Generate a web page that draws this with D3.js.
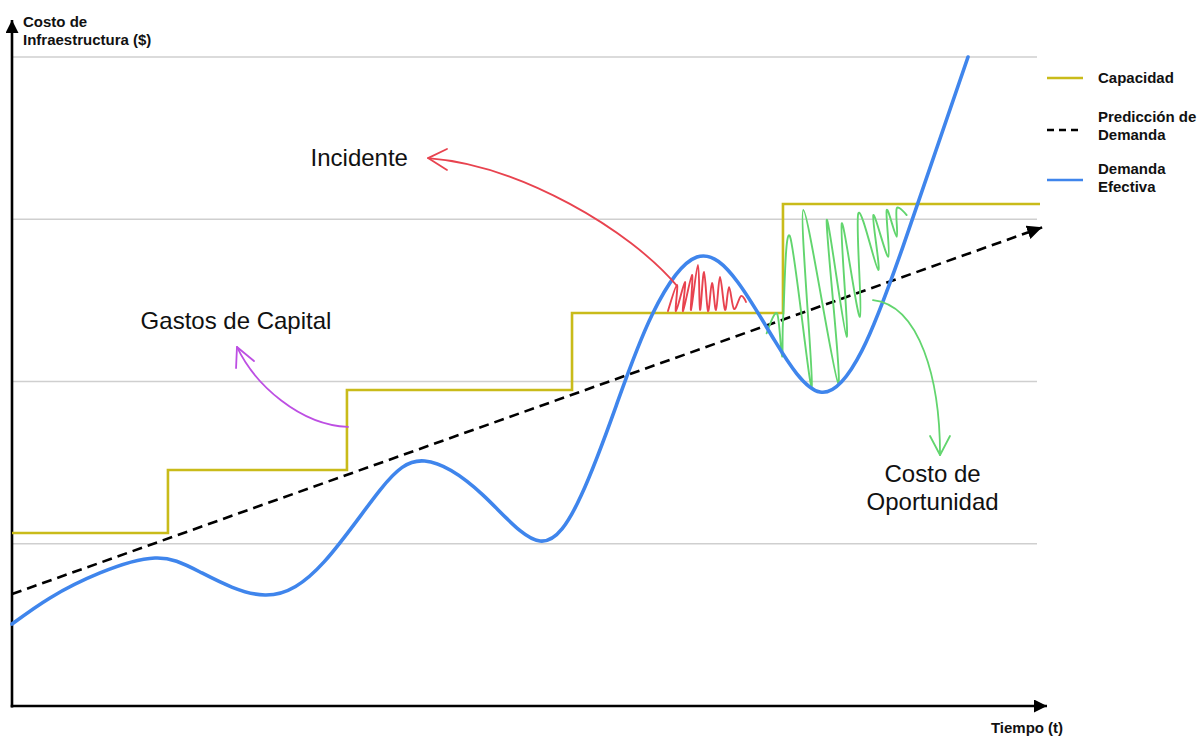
<!DOCTYPE html>
<html>
<head>
<meta charset="utf-8">
<script src="https://cdn.jsdelivr.net/npm/d3@7"></script>
<style>
  html, body { margin: 0; padding: 0; background: #fff; }
  svg { display: block; font-family: "Liberation Sans", Arial, Helvetica, sans-serif; }
</style>
</head>
<body>
<svg id="chart" width="1204" height="736"></svg>
<script>
// ---- data (time t, cost v) ----
const gridValues = [1, 2, 3, 4];

// capacity steps: start time of each step and its level
const capacityT = [0, 1.523, 3.271, 5.469, 7.529, 10.039];
const capacityV = [1.066, 1.455, 1.948, 2.422, 3.094, 3.094];

// demand forecast (straight trend)
const forecastT = [0, 10.06];
const forecastV = [0.69, 2.95];

// effective demand
const demandT = [0, 0.371, 0.859, 1.396, 1.836, 2.471, 3.050, 3.594, 4.030, 4.600, 5.156, 5.560, 5.900, 6.250, 6.689, 7.090, 7.450, 7.891, 8.300, 8.700, 9.336];
const demandV = [0.505, 0.666, 0.820, 0.912, 0.826, 0.684, 0.890, 1.331, 1.510, 1.300, 1.017, 1.300, 1.850, 2.410, 2.767, 2.610, 2.250, 1.935, 2.190, 2.830, 4.000];

// scribbled shading: incident (demand above capacity)
const incidentT = [6.406, 6.494, 6.484, 6.572, 6.553, 6.641, 6.631, 6.699, 6.719, 6.758, 6.797, 6.836, 6.875, 6.914, 6.963, 7.002, 7.051, 7.119, 7.168];
const incidentV = [2.434, 2.595, 2.434, 2.613, 2.434, 2.656, 2.441, 2.718, 2.441, 2.675, 2.434, 2.607, 2.441, 2.644, 2.441, 2.582, 2.447, 2.527, 2.490];

// scribbled shading: opportunity cost (capacity above demand)
const opportunityT = [7.370, 7.471, 7.520, 7.532, 7.598, 7.810, 7.728, 8.069, 7.956, 8.151, 8.103, 8.281, 8.265, 8.460, 8.411, 8.558, 8.542, 8.640, 8.640, 8.737];
const opportunityV = [2.297, 2.420, 2.153, 2.410, 2.893, 1.968, 3.057, 1.989, 2.995, 2.276, 2.975, 2.399, 3.037, 2.687, 3.026, 2.769, 3.057, 2.892, 3.067, 3.026];

// callout arrows: cubic curve (start, control 1, control 2, tip), then arrowhead wings
const capexArrowT = [3.281, 2.813, 2.373, 2.197];
const capexArrowV = [1.720, 1.732, 1.978, 2.213];
const capexWingT = [2.188, 2.197, 2.363];
const capexWingV = [2.083, 2.213, 2.126];

const incidentArrowT = [6.494, 6.035, 4.961, 4.063];
const incidentArrowV = [2.589, 2.934, 3.334, 3.377];
const incidentWingT = [4.248, 4.063, 4.248];
const incidentWingV = [3.433, 3.377, 3.304];

const oppArrowT = [8.408, 8.867, 9.063, 9.063];
const oppArrowV = [2.502, 2.471, 2.009, 1.547];
const oppWingT = [8.965, 9.063, 9.160];
const oppWingV = [1.664, 1.547, 1.664];

// text
const yTitle = ["Costo de", "Infraestructura ($)"];
const xTitle = "Tiempo (t)";
const legendLabels = [["Capacidad"], ["Predicción de", "Demanda"], ["Demanda", "Efectiva"]];

// ---- drawing ----
const colors = {
  capacity: "#c9bb1a",
  forecast: "#000000",
  demand: "#3f85ec",
  incident: "#e8434f",
  opportunity: "#62d56e",
  capex: "#bd4fe3",
  grid: "#cfcfcf"
};

const svg = d3.select("#chart");
const x = d3.scaleLinear().domain([0, 10]).range([12, 1036]);
const y = d3.scaleLinear().domain([0, 4]).range([706, 57]);

const zip = (ts, vs) => ts.map((t, i) => [t, vs[i]]);
const lineOf = curve => d3.line().x(d => x(d[0])).y(d => y(d[1])).curve(curve);

// arrowhead markers
const defs = svg.append("defs");
function triMarker(id, color, w, h) {
  defs.append("marker")
    .attr("id", id)
    .attr("viewBox", `0 0 ${w} ${h}`)
    .attr("refX", w).attr("refY", h / 2)
    .attr("markerUnits", "userSpaceOnUse")
    .attr("markerWidth", w).attr("markerHeight", h)
    .attr("orient", "auto")
    .append("path")
    .attr("d", `M0,0 L${w},${h / 2} L0,${h} Z`)
    .attr("fill", color);
}
triMarker("axisHead", "#000", 13, 13);
triMarker("trendHead", "#000", 15, 14);

// gridlines
svg.append("g").selectAll("line").data(gridValues).join("line")
  .attr("x1", x(0)).attr("x2", x(10) + 1)
  .attr("y1", d => y(d)).attr("y2", d => y(d))
  .attr("stroke", colors.grid).attr("stroke-width", 1.6);

// axes
svg.append("line")
  .attr("x1", x(0)).attr("y1", y(0) + 1.5)
  .attr("x2", x(0)).attr("y2", y(0) - 686)
  .attr("stroke", "#000").attr("stroke-width", 2.6)
  .attr("marker-end", "url(#axisHead)");
svg.append("line")
  .attr("x1", x(0) - 1.3).attr("y1", y(0))
  .attr("x2", x(0) + 1035).attr("y2", y(0))
  .attr("stroke", "#000").attr("stroke-width", 2.6)
  .attr("marker-end", "url(#axisHead)");

// capacity
svg.append("path")
  .datum(zip(capacityT, capacityV))
  .attr("d", lineOf(d3.curveStepAfter))
  .attr("fill", "none").attr("stroke", colors.capacity).attr("stroke-width", 2.6);

// forecast trend
svg.append("path")
  .datum(zip(forecastT, forecastV))
  .attr("d", lineOf(d3.curveLinear))
  .attr("fill", "none").attr("stroke", colors.forecast).attr("stroke-width", 2.6)
  .attr("stroke-dasharray", "10,6")
  .attr("marker-end", "url(#trendHead)");

// scribbles
function scribble(ts, vs, color) {
  svg.append("path")
    .datum(zip(ts, vs))
    .attr("d", lineOf(d3.curveCatmullRom.alpha(0)))
    .attr("fill", "none").attr("stroke", color).attr("stroke-width", 1.9)
    .attr("stroke-linejoin", "round").attr("stroke-linecap", "round");
}
scribble(incidentT, incidentV, colors.incident);
scribble(opportunityT, opportunityV, colors.opportunity);

// effective demand
svg.append("path")
  .datum(zip(demandT, demandV))
  .attr("d", lineOf(d3.curveNatural))
  .attr("fill", "none").attr("stroke", colors.demand).attr("stroke-width", 3.6)
  .attr("stroke-linecap", "round");

// callout arrows
function callout(ts, vs, wt, wv, color) {
  const p = d3.path();
  p.moveTo(x(ts[0]), y(vs[0]));
  p.bezierCurveTo(x(ts[1]), y(vs[1]), x(ts[2]), y(vs[2]), x(ts[3]), y(vs[3]));
  svg.append("path")
    .attr("d", p.toString())
    .attr("fill", "none").attr("stroke", color).attr("stroke-width", 1.8)
    .attr("stroke-linecap", "round");
  svg.append("path")
    .datum(zip(wt, wv))
    .attr("d", lineOf(d3.curveLinear))
    .attr("fill", "none").attr("stroke", color).attr("stroke-width", 1.8)
    .attr("stroke-linecap", "round").attr("stroke-linejoin", "round");
}
callout(capexArrowT, capexArrowV, capexWingT, capexWingV, colors.capex);
callout(incidentArrowT, incidentArrowV, incidentWingT, incidentWingV, colors.incident);
callout(oppArrowT, oppArrowV, oppWingT, oppWingV, colors.opportunity);

// callout labels
const big = 24;
svg.append("text").attr("x", x(3.867)).attr("y", y(3.328))
  .attr("text-anchor", "end").attr("font-size", big).attr("fill", "#111")
  .text("Incidente");
svg.append("text").attr("x", x(2.1875)).attr("y", y(2.325))
  .attr("text-anchor", "middle").attr("font-size", big).attr("fill", "#111")
  .text("Gastos de Capital");
const oppLabel = svg.append("text").attr("text-anchor", "middle")
  .attr("font-size", big).attr("fill", "#111");
oppLabel.append("tspan").attr("x", x(8.99)).attr("y", y(1.380)).text("Costo de");
oppLabel.append("tspan").attr("x", x(8.99)).attr("y", y(1.380) + 28).text("Oportunidad");

// axis titles
const small = 15;
const yt = svg.append("text").attr("font-size", small).attr("font-weight", "bold").attr("fill", "#111");
yTitle.forEach((s, i) => yt.append("tspan").attr("x", 23).attr("y", 27 + i * 18).text(s));
svg.append("text").attr("x", 1027).attr("y", 733)
  .attr("text-anchor", "middle").attr("font-size", small).attr("font-weight", "bold").attr("fill", "#111")
  .text(xTitle);

// legend
const legend = svg.append("g").attr("transform", "translate(1047,0)");
const legendRows = [
  { y: 78, color: colors.capacity, dash: null, textY: [83] },
  { y: 130, color: "#000", dash: "7,5", textY: [122, 140] },
  { y: 180, color: colors.demand, dash: null, textY: [174, 192] }
];
legendRows.forEach((r, i) => {
  legend.append("line")
    .attr("x1", 0).attr("x2", 36).attr("y1", r.y).attr("y2", r.y)
    .attr("stroke", r.color).attr("stroke-width", 2.6)
    .attr("stroke-dasharray", r.dash);
  const t = legend.append("text").attr("font-size", small).attr("font-weight", "bold").attr("fill", "#111");
  legendLabels[i].forEach((s, j) => t.append("tspan").attr("x", 51).attr("y", r.textY[j]).text(s));
});
</script>
</body>
</html>
